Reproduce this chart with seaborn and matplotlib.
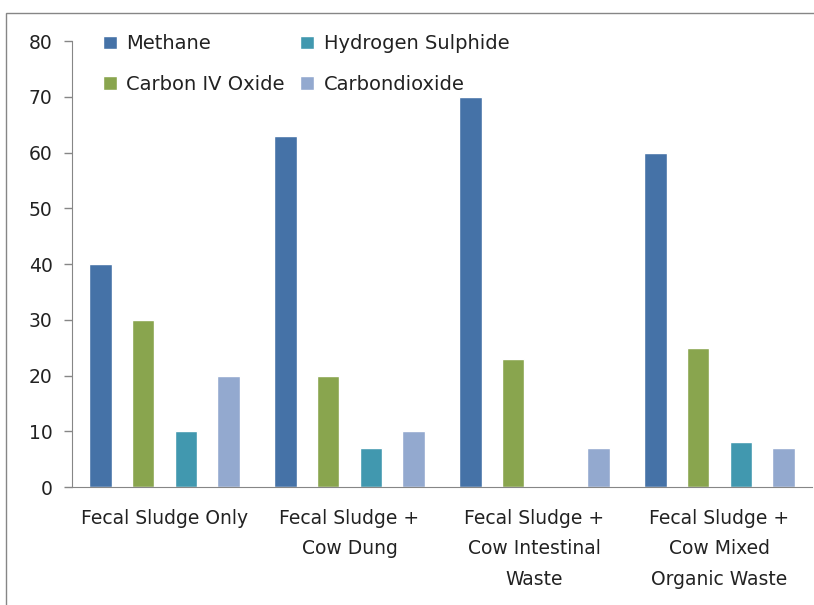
import pandas as pd
import seaborn as sns
import matplotlib.pyplot as plt
from matplotlib.patches import Rectangle

categories = ["Fecal Sludge Only",
              "Fecal Sludge +\nCow Dung",
              "Fecal Sludge +\nCow Intestinal\nWaste",
              "Fecal Sludge +\nCow Mixed\nOrganic Waste"]
gases = ["Methane", "Carbon IV Oxide", "Hydrogen Sulphide", "Carbondioxide"]
methane = [40, 63, 70, 60]
carbon_iv_oxide = [30, 20, 23, 25]
hydrogen_sulphide = [10, 7, 0, 8]
carbondioxide = [20, 10, 7, 7]
colors = ["#4572A7", "#89A54E", "#4198AF", "#93A9CF"]

rows = []
for gas, vals in zip(gases, [methane, carbon_iv_oxide, hydrogen_sulphide, carbondioxide]):
    for cat, v in zip(categories, vals):
        rows.append({"sample": cat, "gas": gas, "value": v})
df = pd.DataFrame(rows)

sns.set_style("white")
plt.rcParams["font.family"] = ["DejaVu Sans"]
plt.rcParams["text.color"] = "#222222"

fig = plt.figure(figsize=(8.14, 6.05), dpi=100)
ax = fig.add_axes([0.0885, 0.195, 0.909, 0.737])

sns.barplot(data=df, x="sample", y="value", hue="gas", hue_order=gases,
            order=categories, palette=colors, saturation=1,
            width=0.925, gap=0.47, errorbar=None, ax=ax)

ax.set_xlim(-0.5, 3.5)
ax.set_ylim(0, 80)
ax.set_yticks(range(0, 81, 10))
ax.set_xlabel("")
ax.set_ylabel("")

ax.set_xticks([-0.5, 0.5, 1.5, 2.5, 3.5], minor=True)
ax.tick_params(axis="x", which="major", length=0, pad=16, labelsize=13.5,
               labelcolor="#222222")
ax.tick_params(axis="x", which="minor", length=6, width=1, color="#868686", direction="out")
ax.tick_params(axis="y", length=6, width=1, color="#868686", direction="out",
               pad=8, labelsize=13.5, left=True, labelcolor="#222222")
for lbl in ax.get_xticklabels():
    lbl.set_linespacing(1.75)

sns.despine(ax=ax)
for s in ["left", "bottom"]:
    ax.spines[s].set_color("#868686")

handles, labels = ax.get_legend_handles_labels()
ax.legend(handles, labels, ncol=2, loc="upper left",
          bbox_to_anchor=(0.105, 0.972), bbox_transform=fig.transFigure,
          frameon=False, fontsize=14, handlelength=0.7, handleheight=0.7,
          handletextpad=0.5, columnspacing=0.8, labelspacing=1.1)

fig.add_artist(Rectangle((6 / 814, -0.05), 1.1, 1 - 13 / 605 + 0.05,
                         transform=fig.transFigure, fill=False,
                         edgecolor="#868686", linewidth=1))

fig.savefig("out.png", dpi=100)
